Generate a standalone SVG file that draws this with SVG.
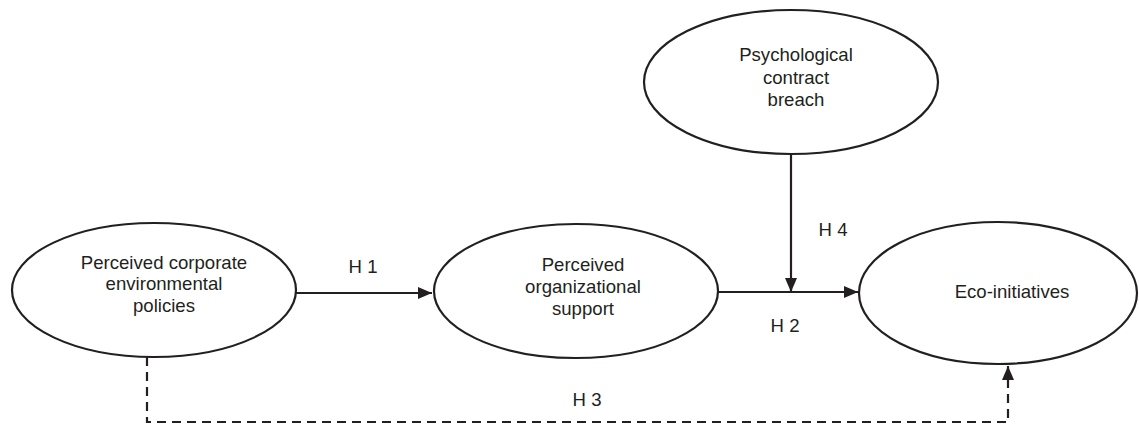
<svg xmlns="http://www.w3.org/2000/svg" width="1139" height="431" viewBox="0 0 1139 431">
<defs>
<marker id="ah" viewBox="0 0 14 12" refX="14" refY="6" markerWidth="14" markerHeight="12" markerUnits="userSpaceOnUse" orient="auto">
<path d="M0,0 L14,6 L0,12 Z" fill="#231f20"/>
</marker>
<style>
.node ellipse{fill:#fff;stroke:#231f20;stroke-width:2.2}
text{font-family:"Liberation Sans",Arial,sans-serif;font-size:18.6px;fill:#231f20;text-anchor:middle}
.c line,.c path{stroke:#231f20;stroke-width:2.2;fill:none}
.d{stroke-dasharray:9 6}
</style>
</defs>
<rect width="1139" height="431" fill="#fff"/>
<g class="c" id="connectors">
<line x1="295" y1="293" x2="432" y2="293" marker-end="url(#ah)"/>
<line x1="718" y1="292" x2="858" y2="292" marker-end="url(#ah)"/>
<line x1="791" y1="154" x2="791" y2="292" marker-end="url(#ah)"/>
<path class="d" d="M147,357 V422 H1008 V366" marker-end="url(#ah)"/>
<text x="363" y="273">H 1</text>
<text x="785" y="332">H 2</text>
<text x="587" y="406">H 3</text>
<text x="833" y="236">H 4</text>
</g>
<g class="node" id="pcep">
<ellipse cx="154" cy="290" rx="142" ry="67"/>
<text x="164" y="269">Perceived corporate</text>
<text x="164" y="290">environmental</text>
<text x="164" y="312">policies</text>
</g>
<g class="node" id="pos">
<ellipse cx="576" cy="291" rx="142" ry="67"/>
<text x="583" y="271">Perceived</text>
<text x="583" y="293">organizational</text>
<text x="583" y="315">support</text>
</g>
<g class="node" id="eco">
<ellipse cx="998" cy="293" rx="139" ry="71"/>
<text x="1012" y="298">Eco-initiatives</text>
</g>
<g class="node" id="pcb">
<ellipse cx="791" cy="82" rx="147" ry="72"/>
<text x="796" y="61">Psychological</text>
<text x="796" y="84">contract</text>
<text x="796" y="106">breach</text>
</g>
</svg>
